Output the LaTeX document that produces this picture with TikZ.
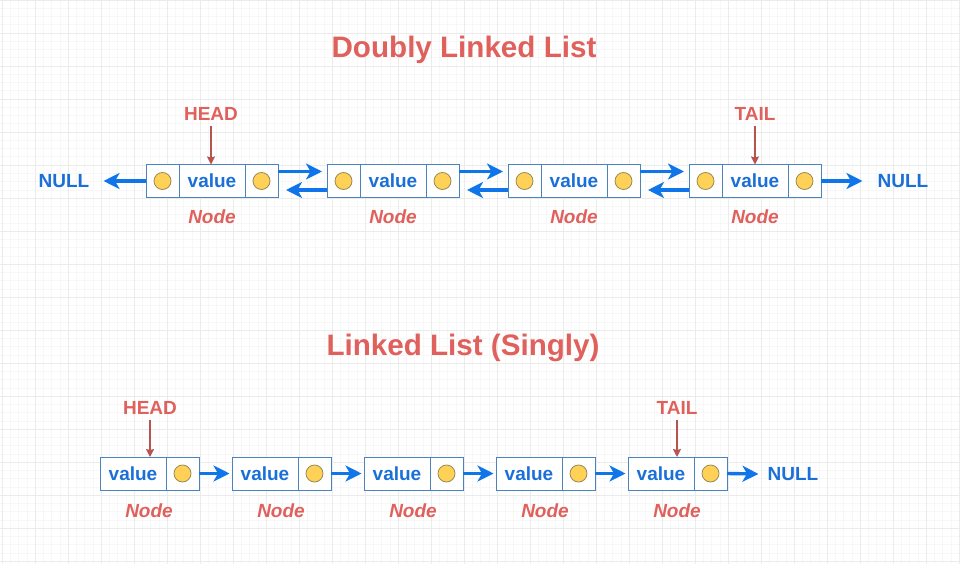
\documentclass[tikz,border=0pt]{standalone}
\usepackage{fontspec}
\setmainfont{Liberation Sans}
\usetikzlibrary{positioning,arrows.meta}
\definecolor{redtxt}{HTML}{E0605C}
\definecolor{ptrred}{HTML}{B85450}
\definecolor{txtblue}{HTML}{1B6FD8}
\definecolor{arrowblue}{HTML}{0F75E8}
\definecolor{boxblue}{HTML}{4A84BF}
\definecolor{dotyellow}{HTML}{FFD257}
\definecolor{dotline}{HTML}{9A8B55}
\tikzset{
  cell/.style={draw=boxblue, line width=1pt, fill=white, inner sep=0pt, outer sep=0pt, minimum height=33pt},
  ptrcell/.style={cell, minimum width=33pt},
  valcell/.style={cell, minimum width=66pt, text=txtblue, font=\bfseries\fontsize{19}{22}\selectfont},
  dot/.style={circle, draw=dotline, fill=dotyellow, line width=0.8pt, minimum size=17pt, inner sep=0pt},
  link/.style={line width=3.4pt, draw=arrowblue, -{Stealth[length=16pt,width=16pt,inset=4.5pt]}},
  pointer/.style={line width=1.2pt, draw=ptrred, -{Stealth[length=8pt,width=8pt,inset=1pt]}},
  heading/.style={text=redtxt, inner sep=2pt, font=\bfseries\fontsize{29.6}{34}\selectfont},
  marker/.style={text=redtxt, inner sep=2pt, font=\bfseries\fontsize{19}{22}\selectfont},
  nodename/.style={marker, font=\bfseries\itshape\fontsize{19}{22}\selectfont},
  nulltext/.style={text=txtblue, inner sep=2pt, font=\bfseries\fontsize{19}{22}\selectfont},
  gridmajor/.style={draw=gray!16, line width=0.8pt},
  gridminor/.style={draw=gray!6, line width=0.5pt},
}

\begin{document}
\begin{tikzpicture}[x=1pt,y=-1pt]
        \useasboundingbox (0,0) rectangle (960,564);
        % background grid
        \fill[white] (0,0) rectangle (960,564);
        \foreach \gx in {2,10.25,...,960} \draw[gridminor] (\gx,0) -- (\gx,564);
        \foreach \gy in {0,8.25,...,564} \draw[gridminor] (0,\gy) -- (960,\gy);
        \foreach \gx in {2,35,...,960} \draw[gridmajor] (\gx,0) -- (\gx,564);
        \foreach \gy in {0,33,...,564} \draw[gridmajor] (0,\gy) -- (960,\gy);

        % titles
        \node[heading] (dtitle) at (464,50) {Doubly Linked List};
        \node[heading] (stitle) at (463,348) {Linked List (Singly)};

        % doubly linked list
        \foreach \i in {1,...,4}{
          \pgfmathsetmacro\cx{212+181*(\i-1)}
          \node[valcell] (d\i-v) at (\cx,181) {value};
          \node[ptrcell, left=0pt of d\i-v] (d\i-p) {};
          \node[ptrcell, right=0pt of d\i-v] (d\i-n) {};
          \node[dot] (d\i-pd) at (d\i-p) {};
          \node[dot] (d\i-nd) at (d\i-n) {};
          \node[nodename] (d\i-l) at (\cx,217) {Node};
        }
        \foreach \i [evaluate=\i as \j using int(\i+1)] in {1,2,3}{
          \draw[link] ([yshift=9.5pt]d\i-n.east) -- ([yshift=9.5pt,xshift=-5pt]d\j-p.west);
          \draw[link] ([yshift=-9pt]d\j-p.west) -- ([yshift=-9pt,xshift=8pt]d\i-n.east);
        }
        \node[nulltext] (dnullL) at (64,181) {NULL};
        \node[nulltext] (dnullR) at (903,181) {NULL};
        \draw[link] (d1-p.west) -- ([xshift=12pt]dnullL.east);
        \draw[link] (d4-n.east) -- ([xshift=-13pt]dnullR.west);

        \node[marker] (dhead) at (211,114) {HEAD};
        \node[marker] (dtail) at (755,114) {TAIL};
        \draw[pointer] ([yshift=-3pt]dhead.south) -- (dhead.south |- d1-v.north);
        \draw[pointer] ([yshift=-3pt]dtail.south) -- (dtail.south |- d4-v.north);

        % singly linked list
        \foreach \i in {1,...,5}{
          \pgfmathsetmacro\cx{133+132*(\i-1)}
          \node[valcell] (s\i-v) at (\cx,473.5) {value};
          \node[ptrcell, right=0pt of s\i-v] (s\i-n) {};
          \node[dot] (s\i-nd) at (s\i-n) {};
          \node[nodename] (s\i-l) at (\cx+16,511) {Node};
        }
        \foreach \i [evaluate=\i as \j using int(\i+1)] in {1,2,3,4}{
          \draw[link] (s\i-n.east) -- ([xshift=-2.5pt]s\j-v.west);
        }
        \node[nulltext] (snull) at (793,474) {NULL};
        \draw[link] (s5-n.east) -- ([xshift=-7pt]snull.west);

        \node[marker] (shead) at (150,408) {HEAD};
        \node[marker] (stail) at (677,408) {TAIL};
        \draw[pointer] ([yshift=-3pt]shead.south) -- (shead.south |- s1-v.north);
        \draw[pointer] ([yshift=-3pt]stail.south) -- (stail.south |- s5-v.north);
\end{tikzpicture}
\end{document}
